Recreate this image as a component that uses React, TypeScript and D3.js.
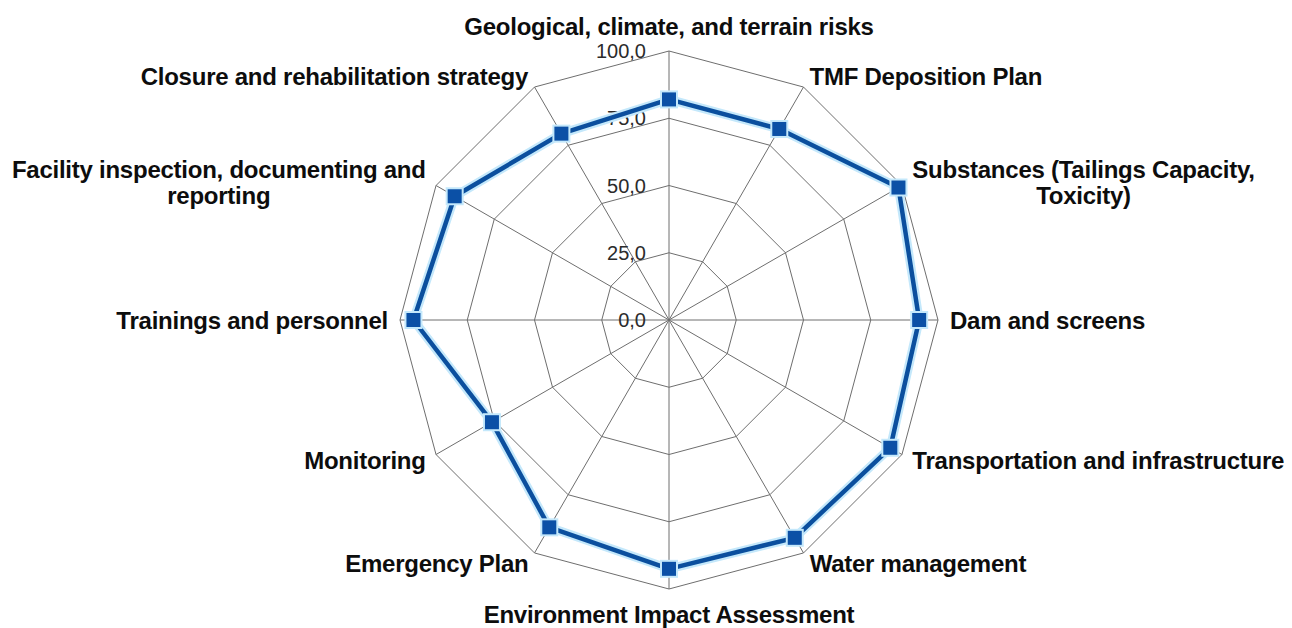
import React, { useEffect, useRef } from 'react';
import * as d3 from 'd3';

// category labels, clockwise from the top ("\n" = line break)
const categories: string[] = [
  'Geological, climate, and terrain risks',
  'TMF Deposition Plan',
  'Substances (Tailings Capacity,\nToxicity)',
  'Dam and screens',
  'Transportation and infrastructure',
  'Water management',
  'Environment Impact Assessment',
  'Emergency Plan',
  'Monitoring',
  'Trainings and personnel',
  'Facility inspection, documenting and\nreporting',
  'Closure and rehabilitation strategy',
];

const scores: number[] = [82, 82, 98.5, 93, 95, 93.5, 92.5, 89, 76, 95, 92, 80];

const ticks: number[] = [0, 25, 50, 75, 100];

const W = 1292;
const H = 628;

const App: React.FC = () => {
  const svgRef = useRef<SVGSVGElement>(null);

  useEffect(() => {
    if (!svgRef.current) return;
    const cx = 669;
    const cy = 320;
    const R = 269;

    const svg = d3.select(svgRef.current);
    svg.selectAll('*').remove();

    const r = d3.scaleLinear().domain([0, 100]).range([0, R]);
    const angle = d3.scalePoint<number>()
      .domain(d3.range(categories.length + 1))
      .range([0, 2 * Math.PI]);
    const ang = (i: number) => angle(i) as number;

    const g = svg.append('g').attr('transform', `translate(${cx},${cy})`);

    // rings
    const ring = d3.lineRadial<number>()
      .angle((_, i) => ang(i))
      .radius((d) => r(d))
      .curve(d3.curveLinearClosed);

    g.selectAll('path.ring')
      .data(ticks.filter((t) => t > 0))
      .enter()
      .append('path')
      .attr('class', 'ring')
      .attr('d', (t) => ring(categories.map(() => t)))
      .attr('fill', 'none')
      .attr('stroke', '#6e6e6e')
      .attr('stroke-width', 1);

    // spokes
    g.selectAll('line.spoke')
      .data(categories)
      .enter()
      .append('line')
      .attr('x1', 0)
      .attr('y1', 0)
      .attr('x2', (_, i) => r(100) * Math.sin(ang(i)))
      .attr('y2', (_, i) => -r(100) * Math.cos(ang(i)))
      .attr('stroke', '#6e6e6e')
      .attr('stroke-width', 1);

    // tick labels along the top spoke
    g.selectAll('text.tick')
      .data(ticks)
      .enter()
      .append('text')
      .attr('x', -23)
      .attr('y', (t) => -r(t))
      .attr('text-anchor', 'end')
      .attr('dominant-baseline', 'central')
      .style('font-family', '"Liberation Sans", Arial, sans-serif')
      .style('font-size', '20px')
      .style('fill', '#2b2b2b')
      .text((t) => t.toFixed(1).replace('.', ','));

    // series
    const line = d3.lineRadial<number>()
      .angle((_, i) => ang(i))
      .radius((d) => r(d))
      .curve(d3.curveLinearClosed);

    g.append('path')
      .attr('d', line(scores))
      .attr('fill', 'none')
      .attr('stroke', '#c4e8fb')
      .attr('stroke-width', 9)
      .attr('stroke-linejoin', 'round');

    g.append('path')
      .attr('d', line(scores))
      .attr('fill', 'none')
      .attr('stroke', '#0b4f9e')
      .attr('stroke-width', 4.5)
      .attr('stroke-linejoin', 'round');

    const pts = scores.map((v, i) => [r(v) * Math.sin(ang(i)), -r(v) * Math.cos(ang(i))]);

    g.selectAll('rect.glow')
      .data(pts)
      .enter()
      .append('rect')
      .attr('x', (d) => d[0] - 9)
      .attr('y', (d) => d[1] - 9)
      .attr('width', 18)
      .attr('height', 18)
      .attr('fill', '#c4e8fb');

    g.selectAll('rect.marker')
      .data(pts)
      .enter()
      .append('rect')
      .attr('x', (d) => d[0] - 7)
      .attr('y', (d) => d[1] - 7)
      .attr('width', 14)
      .attr('height', 14)
      .attr('fill', '#0b50a6');

    // category labels
    const lineH = 26;
    const off = 12;
    categories.forEach((label, i) => {
      const a = ang(i);
      const s = Math.sin(a);
      const c = Math.cos(a);
      const px = (R + off) * s;
      const py = -(R + off) * c;
      const lines = label.split('\n');
      const t = g.append('text')
        .attr('text-anchor', 'middle')
        .style('font-family', '"Liberation Sans", Arial, sans-serif')
        .style('font-weight', 'bold')
        .style('font-size', '24px')
        .style('letter-spacing', '-0.25px')
        .style('fill', '#0d0d0d');
      lines.forEach((ln, k) => {
        t.append('tspan')
          .attr('x', 0)
          .attr('y', (k - (lines.length - 1) / 2) * lineH)
          .attr('dominant-baseline', 'central')
          .text(ln);
      });
      const bw = (t.node() as SVGTextElement).getBBox().width;
      const bh = lines.length * lineH;
      let x = px;
      if (s > 0.1) x = px + bw / 2;
      else if (s < -0.1) x = px - bw / 2;
      let y = py + (lines.length > 1 ? 3 : 0);
      if (Math.abs(s) <= 0.1) y = py - (c * bh) / 2;
      t.attr('transform', `translate(${x},${y})`);
    });
  }, []);

  return (
    <svg
      ref={svgRef}
      width={W}
      height={H}
      style={{ position: 'absolute', left: 0, top: 0, background: '#fff' }}
    />
  );
};

export default App;
